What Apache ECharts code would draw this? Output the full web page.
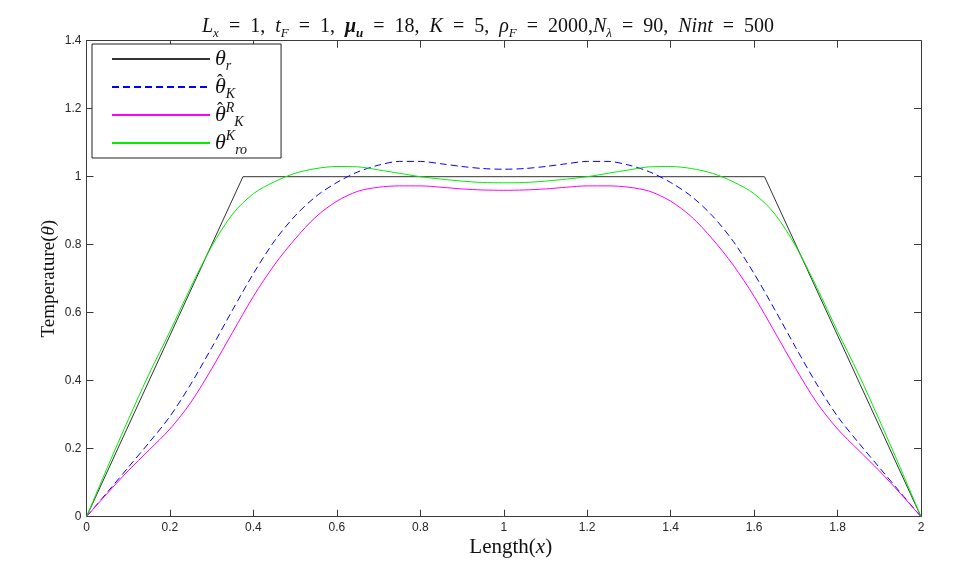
<!DOCTYPE html>
<html>
<head>
<meta charset="utf-8">
<script src="https://cdn.jsdelivr.net/npm/echarts@6/dist/echarts.min.js"></script>
<style>html,body{margin:0;padding:0;background:#fff}#c{width:964px;height:581px}</style>
</head>
<body>
<div id="c"></div>
<script>
// x positions (Length)
var xs = [0,0.05,0.1,0.15,0.2,0.25,0.3,0.35,0.4,0.45,0.5,0.55,0.6,0.65,0.7,0.75,0.8,0.85,0.9,0.95,1.0,
          1.05,1.1,1.15,1.2,1.25,1.3,1.35,1.4,1.45,1.5,1.55,1.6,1.65,1.7,1.75,1.8,1.85,1.9,1.95,2.0];
// theta_r (reference, piecewise linear)
var rX = [0, 0.375, 1.625, 2];
var rY = [0, 1, 1, 0];
// hat theta_K (blue dashed)
var thetaK = [0,0.072,0.145,0.218,0.295,0.39,0.497,0.608,0.715,0.81,0.885,0.942,0.983,1.014,1.034,1.045,1.045,1.038,1.03,1.024,1.022,
              1.024,1.03,1.038,1.045,1.045,1.034,1.014,0.983,0.942,0.885,0.81,0.715,0.608,0.497,0.39,0.295,0.218,0.145,0.072,0];
// hat theta_K^R (magenta)
var thetaKR = [0,0.069,0.135,0.196,0.258,0.336,0.435,0.542,0.648,0.74,0.817,0.882,0.928,0.957,0.969,0.973,0.973,0.969,0.964,0.961,0.96,
               0.961,0.964,0.969,0.973,0.973,0.969,0.957,0.928,0.882,0.817,0.74,0.648,0.542,0.435,0.336,0.258,0.196,0.135,0.069,0];
// theta_ro^K (green)
var thetaRoK = [0,0.145,0.285,0.42,0.545,0.675,0.795,0.89,0.95,0.985,1.01,1.024,1.03,1.029,1.02,1.01,1.0,0.993,0.987,0.983,0.982,
                0.983,0.987,0.993,1.0,1.01,1.02,1.029,1.03,1.024,1.01,0.985,0.95,0.89,0.795,0.675,0.545,0.42,0.285,0.145,0];
var xTicks = [0,0.2,0.4,0.6,0.8,1,1.2,1.4,1.6,1.8,2];
var yTicks = [0,0.2,0.4,0.6,0.8,1,1.2,1.4];

function pairs(x, y){ var o=[]; for(var i=0;i<x.length;i++) o.push([x[i], y[i]]); return o; }

var serif = '"Liberation Serif","DejaVu Serif",serif';
var tickFont = '"Liberation Sans",Arial,sans-serif';
var axisCol = '#3a3a3a';
var txt = '#111';

var chart = echarts.init(document.getElementById('c'), null, {renderer:'canvas'});

var legendMap = {
  'theta_r': '{i|θ}{sp|\u200b}{s|r}',
  'theta_K': '{i|θ}{sp|\u200b}{s|K}',
  'theta_KR': '{i|θ}{sp|R}{s|K}',
  'theta_roK': '{i|θ}{sp|K}{s|ro}'
};

function axisBase(){
  return {
    type: 'value',
    axisLine: {show: true, onZero: false, lineStyle: {color: axisCol, width: 1}},
    axisTick: {show: true, inside: true, length: 7, lineStyle: {color: axisCol}},
    splitLine: {show: false}
  };
}

function rs(o){ return Object.assign({fontFamily: serif, color: txt, fontWeight: 'normal'}, o); }

var option = {
  backgroundColor: '#fff',
  animation: false,
  title: {
    left: 483, top: 8, textAlign: 'center',
    text: '{i|L}{s|x}{n|  =  1,  }{i|t}{s|F}{n|  =  1,  }{b|μ}{sb|u}{n|  =  18,  }{i|K}{n|  =  5,  }{i|ρ}{s|F}{n|  =  2000,}{i|N}{s|λ}{n|  =  90,  }{i|Nint}{n|  =  500}',
    textStyle: {
      fontWeight: 'normal',
      rich: {
        n: rs({fontSize: 20, lineHeight: 24, verticalAlign: 'bottom'}),
        i: rs({fontStyle: 'italic', fontSize: 20, lineHeight: 24, verticalAlign: 'bottom'}),
        b: rs({fontStyle: 'italic', fontWeight: 'bold', fontSize: 20, lineHeight: 24, verticalAlign: 'bottom'}),
        s: rs({fontStyle: 'italic', fontSize: 13, lineHeight: 12, verticalAlign: 'bottom', padding: [0,0,-3,0]}),
        sb: rs({fontStyle: 'italic', fontWeight: 'bold', fontSize: 13, lineHeight: 12, verticalAlign: 'bottom', padding: [0,0,-3,0]})
      }
    }
  },
  grid: {left: 86.5, right: 43, top: 40.7, bottom: 64.3, containLabel: false},
  legend: {
    orient: 'vertical', left: 92, top: 44,
    backgroundColor: '#fff', borderColor: '#222', borderWidth: 1, borderRadius: 0,
    padding: [1, 34, 1, 19],
    itemWidth: 98, itemHeight: 14, itemGap: 0,
    itemStyle: {opacity: 0},
    data: ['theta_r','theta_K','theta_KR','theta_roK'],
    formatter: function(name){ return legendMap[name]; },
    textStyle: {
      rich: {
        i: rs({fontStyle: 'italic', fontSize: 22, lineHeight: 28}),
        s: rs({fontStyle: 'italic', fontSize: 14, lineHeight: 28, verticalAlign: 'bottom'}),
        sp: rs({fontStyle: 'italic', fontSize: 14, lineHeight: 28, verticalAlign: 'top'})
      }
    }
  },
  graphic: [
    {type: 'text', left: 217, top: 73, style: {text: 'ˆ', font: '18px "Liberation Serif",serif', fill: txt}, z: 100},
    {type: 'text', left: 217, top: 101, style: {text: 'ˆ', font: '18px "Liberation Serif",serif', fill: txt}, z: 100}
  ],
  xAxis: [
    Object.assign(axisBase(), {
      position: 'bottom', min: 0, max: 2, interval: 0.2,
      name: '{n|Length(}{i|x}{n|)}', nameLocation: 'middle', nameGap: 20, nameMoveOverlap: false,
      nameTextStyle: {padding: [0,0,0,14], rich: {
        n: rs({fontSize: 21}),
        i: rs({fontStyle: 'italic', fontSize: 21})
      }},
      axisLabel: {show: true, color: '#262626', fontFamily: tickFont, fontSize: 12, margin: 5,
        formatter: function(v){ return String(Math.round(v*10)/10); }}
    }),
    Object.assign(axisBase(), {
      position: 'top', min: 0, max: 2, interval: 0.2, axisLabel: {show: false}
    })
  ],
  yAxis: [
    Object.assign(axisBase(), {
      position: 'left', min: 0, max: 1.4, interval: 0.2,
      name: '{n|Temperature(}{i|θ}{n|)}', nameLocation: 'middle', nameGap: 28, nameRotate: 90, nameMoveOverlap: false,
      nameTextStyle: {rich: {
        n: rs({fontSize: 19}),
        i: rs({fontStyle: 'italic', fontSize: 19})
      }},
      axisLabel: {show: true, color: '#262626', fontFamily: tickFont, fontSize: 12, margin: 5,
        formatter: function(v){ return String(Math.round(v*10)/10); }}
    }),
    Object.assign(axisBase(), {
      position: 'right', min: 0, max: 1.4, interval: 0.2, axisLabel: {show: false}
    })
  ],
  series: [
    {name: 'theta_r', type: 'line', data: pairs(rX, rY), symbol: 'none',
     lineStyle: {color: '#333', width: 1}, itemStyle: {color: '#333'}},
    {name: 'theta_K', type: 'line', data: pairs(xs, thetaK), symbol: 'none', smooth: 0.3,
     lineStyle: {color: '#0000ff', width: 1, type: [7, 4]}, itemStyle: {color: '#0000ff'}},
    {name: 'theta_KR', type: 'line', data: pairs(xs, thetaKR), symbol: 'none', smooth: 0.3,
     lineStyle: {color: '#ff00ff', width: 1}, itemStyle: {color: '#ff00ff'}},
    {name: 'theta_roK', type: 'line', data: pairs(xs, thetaRoK), symbol: 'none', smooth: 0.3,
     lineStyle: {color: '#00ee00', width: 1}, itemStyle: {color: '#00ee00'}}
  ]
};
chart.setOption(option);
</script>
</body>
</html>
